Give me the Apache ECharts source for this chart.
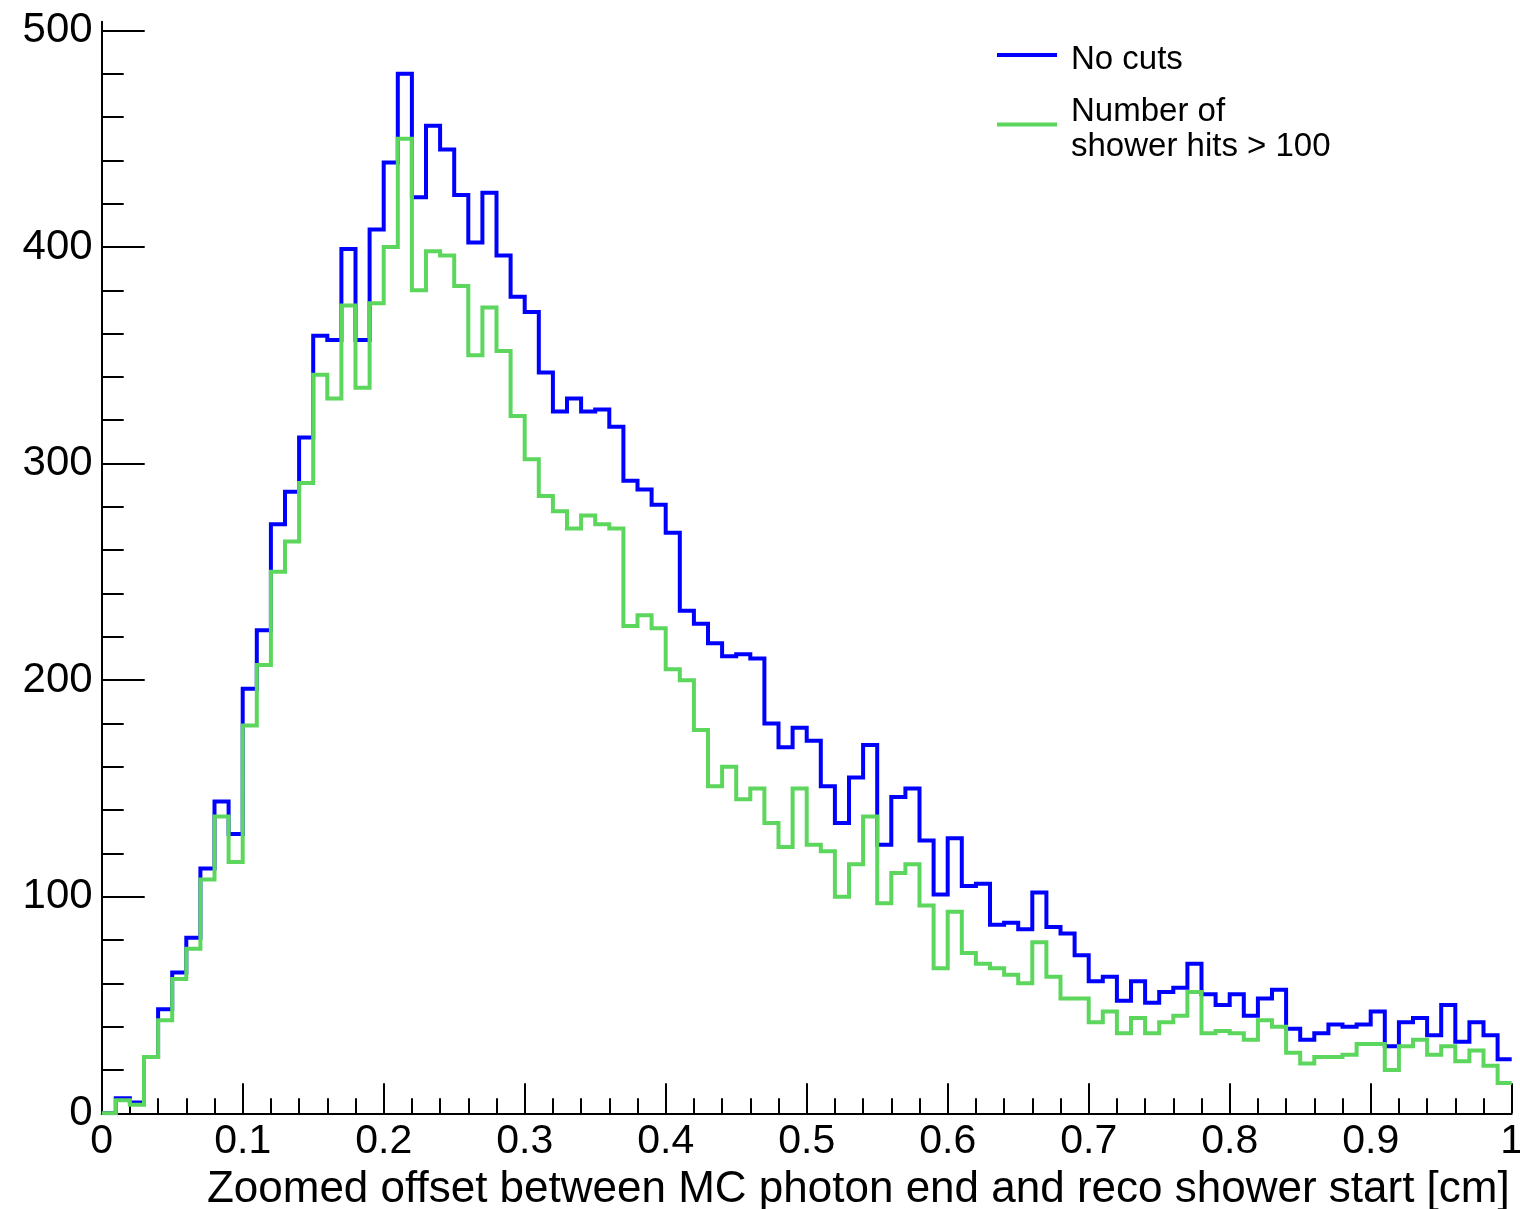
<!DOCTYPE html>
<html>
<head>
<meta charset="utf-8">
<script src="https://cdn.jsdelivr.net/npm/echarts@6/dist/echarts.min.js"></script>
<style>
html,body{margin:0;padding:0;background:#fff;}
#chart{width:1520px;height:1209px;}
</style>
</head>
<body>
<div id="chart"></div>
<script>
// Histogram: 100 bins on [0, 1]
var xMin = 0, xMax = 1, nBins = 100;

var noCuts = [
  0, 7, 5, 26, 48, 65, 81, 113, 144, 129,
  196, 223, 272, 287, 312, 359, 357, 399, 357, 408,
  439, 480, 423, 456, 445, 424, 402, 425, 396, 377,
  370, 342, 324, 330, 324, 325, 317, 292, 288, 281,
  268, 232, 226, 217, 211, 212, 210, 180, 169, 178,
  172, 151, 134, 155, 170, 124, 146, 150, 126, 101,
  127, 105, 106, 87, 88, 85, 102, 86, 83, 73,
  61, 63, 52, 61, 51, 56, 58, 69, 55, 50,
  55, 45, 53, 57, 39, 34, 37, 41, 40, 41,
  47, 31, 42, 44, 36, 50, 33, 42, 36, 25
];

var hitsOver100 = [
  0, 6, 4, 26, 43, 62, 76, 108, 137, 116,
  179, 207, 250, 264, 291, 341, 330, 373, 335, 374,
  400, 450, 380, 398, 396, 382, 350, 372, 352, 322,
  302, 285, 278, 270, 276, 272, 270, 225, 230, 224,
  205, 200, 177, 151, 160, 145, 150, 134, 123, 150,
  124, 121, 100, 115, 137, 97, 111, 115, 96, 67,
  93, 74, 69, 67, 64, 60, 79, 63, 53, 53,
  42, 47, 37, 44, 37, 42, 45, 56, 37, 38,
  37, 34, 43, 40, 28, 23, 26, 26, 27, 32,
  32, 20, 31, 34, 27, 31, 24, 29, 22, 14
];

var seriesNames = ['No cuts', 'Number of\nshower hits > 100'];
var yMajorTicks = [0, 100, 200, 300, 400, 500];
var yMinorTicks = [20, 40, 60, 80, 120, 140, 160, 180, 220, 240, 260, 280, 320, 340, 360, 380, 420, 440, 460, 480];
var xTitle = 'Zoomed offset between MC photon end and reco shower start [cm]';

function toSteps(vals) {
  var w = (xMax - xMin) / nBins;
  var pts = [];
  for (var i = 0; i < vals.length; i++) {
    pts.push([+(xMin + i * w).toFixed(4), vals[i]]);
  }
  pts.push([xMax, vals[vals.length - 1]]);
  return pts;
}

var font = '"Liberation Sans", Arial, Helvetica, sans-serif';
// legend line icon sitting a little above the text centre
var legendIcon = 'path://M0,0L60,0L60,4L0,4ZM0,13';

var chart = echarts.init(document.getElementById('chart'), null, {renderer: 'canvas'});
chart.setOption({
  animation: false,
  backgroundColor: '#ffffff',
  grid: {left: 101.7, right: 8.3, top: 21.7, bottom: 95.7, containLabel: false, outerBoundsMode: 'none'},
  legend: {
    left: 997, top: 42, orient: 'vertical', padding: 0,
    itemWidth: 60, itemHeight: 13, itemGap: 17,
    icon: legendIcon,
    textStyle: {fontFamily: font, fontSize: 33, color: '#000', lineHeight: 35, padding: [0, 0, 0, 9]},
    data: seriesNames
  },
  xAxis: {
    type: 'value', min: xMin, max: xMax, interval: 0.1,
    axisLine: {show: true, onZero: false, lineStyle: {color: '#000', width: 2}},
    axisTick: {show: true, inside: true, length: 30, lineStyle: {color: '#000', width: 2}},
    minorTick: {show: true, splitNumber: 5, length: 15, lineStyle: {color: '#000', width: 2}},
    splitLine: {show: false},
    axisLabel: {fontFamily: font, fontSize: 41, color: '#000', margin: 8},
    name: xTitle,
    nameLocation: 'end', nameGap: -2,
    nameTextStyle: {fontFamily: font, fontSize: 44, color: '#000', align: 'right', verticalAlign: 'top', padding: [55, 0, 0, 0]}
  },
  yAxis: [{
    type: 'value', min: 0, max: 504,
    axisLine: {show: true, onZero: false, lineStyle: {color: '#000', width: 2}},
    axisTick: {show: true, inside: true, length: 43, customValues: yMajorTicks, lineStyle: {color: '#000', width: 2}},
    axisLabel: {fontFamily: font, fontSize: 42, color: '#000', margin: 9, customValues: yMajorTicks},
    splitLine: {show: false}
  }, {
    type: 'value', min: 0, max: 504, position: 'left',
    axisLine: {show: false},
    axisTick: {show: true, inside: true, length: 22, customValues: yMinorTicks, lineStyle: {color: '#000', width: 2}},
    axisLabel: {show: false},
    splitLine: {show: false}
  }],
  series: [{
    name: seriesNames[0], type: 'line', step: 'end', showSymbol: false, symbol: 'none',
    yAxisIndex: 0, color: '#0000ff',
    lineStyle: {color: '#0000ff', width: 4, join: 'miter', cap: 'butt'},
    data: toSteps(noCuts)
  }, {
    name: seriesNames[1], type: 'line', step: 'end', showSymbol: false, symbol: 'none',
    yAxisIndex: 0, color: '#5cd65c',
    lineStyle: {color: '#5cd65c', width: 4, join: 'miter', cap: 'butt'},
    data: toSteps(hitsOver100)
  }]
});
</script>
</body>
</html>
